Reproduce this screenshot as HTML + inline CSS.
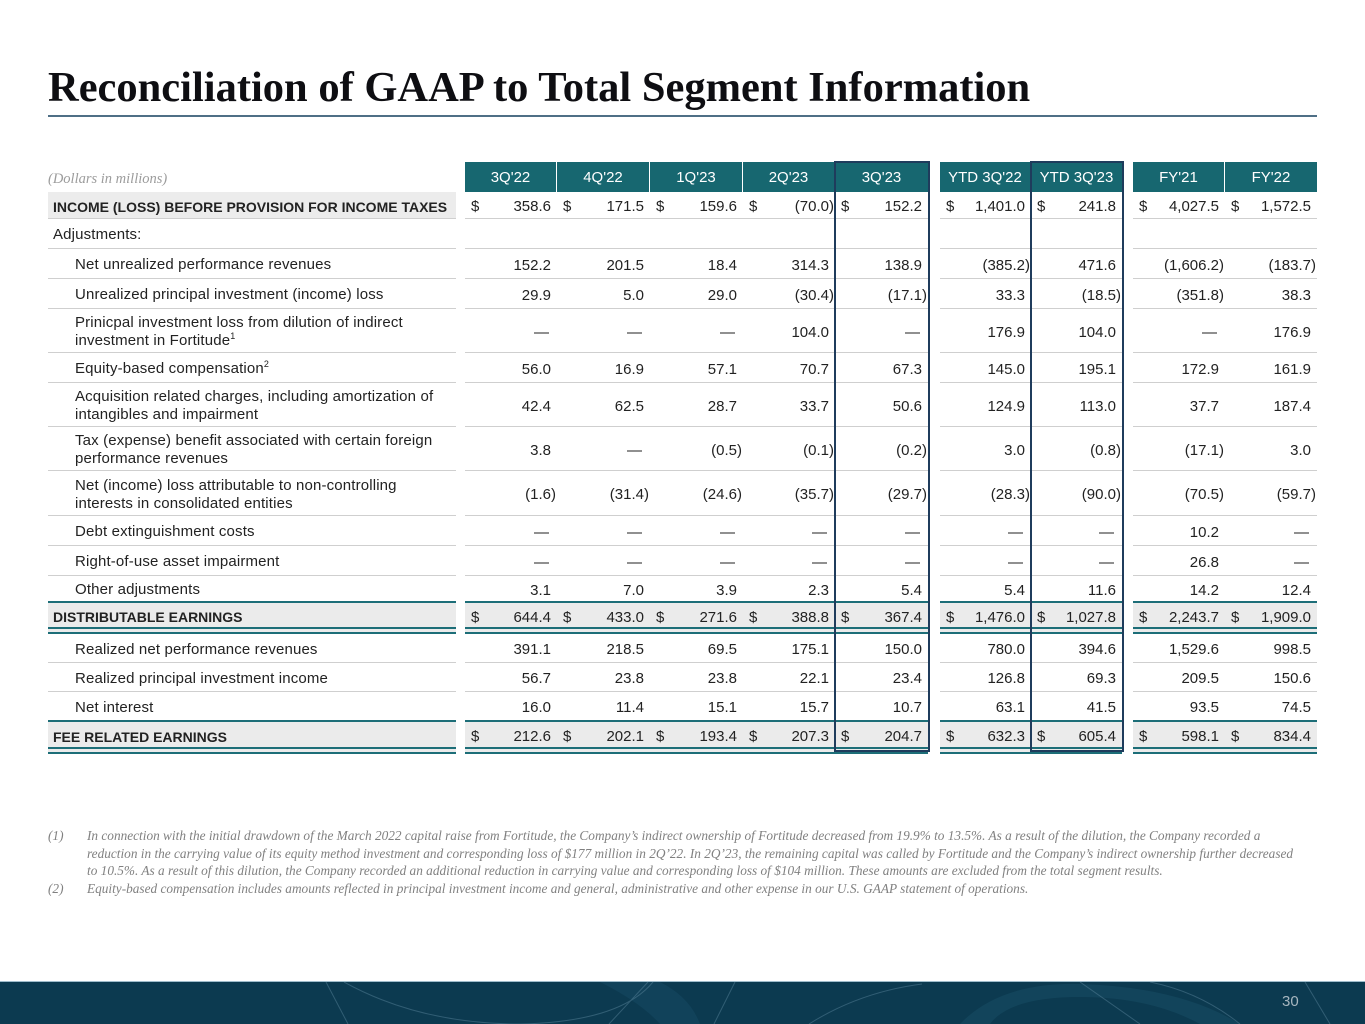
<!DOCTYPE html>
<html><head><meta charset="utf-8">
<style>
html,body{margin:0;padding:0;}
body{width:1365px;height:1024px;position:relative;overflow:hidden;background:#fff;font-family:"Liberation Sans",Arial,sans-serif;color:#222;}
.title{position:absolute;left:48px;top:67px;font-family:"Liberation Serif",serif;font-weight:bold;font-size:42.5px;line-height:42px;color:#0e0e12;white-space:nowrap;}
.rule{position:absolute;left:48px;top:115px;width:1269px;height:2px;background:#4f6f86;}
.dim{position:absolute;left:48px;top:170px;font-family:"Liberation Serif",serif;font-style:italic;font-size:14.5px;line-height:18px;color:#9c9c9c;}
.r{position:absolute;left:0;width:1365px;}
.c{position:absolute;top:0;bottom:0;box-sizing:border-box;border-bottom:1px solid #cfcfcf;display:flex;align-items:center;justify-content:flex-end;padding-right:6px;padding-top:3px;font-size:15px;color:#222;white-space:nowrap;}
.c i{font-style:normal;margin-right:-5px;}
.c .s{position:absolute;left:6px;font-weight:normal;}
.L{left:48px;width:408px;justify-content:flex-start;padding-left:27px;line-height:18px;white-space:normal;letter-spacing:0.15px;}
.L.b{padding-left:5px;font-weight:bold;font-size:14px;letter-spacing:0;}
.L sup{font-size:9px;line-height:0;vertical-align:6px;}
.k1{left:465px;width:92px}.k2{left:557px;width:93px}.k3{left:650px;width:93px}.k4{left:743px;width:92px}.k5{left:835px;width:93px}
.k6{left:940px;width:91px}.k7{left:1031px;width:91px}.k8{left:1133px;width:92px}.k9{left:1225px;width:92px}
.hd .c{background:#176770;color:#fff;justify-content:center;padding:0;border-bottom:none;border-right:1px solid #fff;font-size:15px;}
.hd .k5,.hd .k7,.hd .k9{border-right:none;}
.inc .L{background:#ececec;}
.nb .c{border-bottom:none;}
.tot .c{background:#ebebeb;border-top:2px solid #1d6e78;border-bottom:7px double #1d6e78;padding-top:4px;}
.box{position:absolute;border:2px solid #1f3c5c;box-sizing:border-box;top:161px;height:591px;}
.dash{padding-right:8px;}
.fn{position:absolute;left:48px;top:827px;font-family:"Liberation Serif",serif;font-style:italic;font-size:13.3px;line-height:17.6px;color:#808080;white-space:nowrap;}
.fn div{position:relative;padding-left:39px;}
.fn span{position:absolute;left:0;top:0;}
.foot{position:absolute;left:0;top:981px;width:1365px;height:43px;background:#0c3a50;border-top:1px solid #9fbccb;box-sizing:border-box;}
.pg{position:absolute;left:1282px;top:993px;font-size:15px;color:#a7b6bf;}
</style></head><body>

<div class="title">Reconciliation of GAAP to Total Segment Information</div>
<div class="rule"></div>
<div class="dim">(Dollars in millions)</div>

<!-- header -->
<div class="r hd" style="top:162px;height:30px">
<div class="c k1">3Q'22</div><div class="c k2">4Q'22</div><div class="c k3">1Q'23</div><div class="c k4">2Q'23</div><div class="c k5">3Q'23</div>
<div class="c k6">YTD 3Q'22</div><div class="c k7">YTD 3Q'23</div>
<div class="c k8">FY'21</div><div class="c k9">FY'22</div>
</div>

<div class="r inc" style="top:192px;height:27px">
<div class="c L b"><span>INCOME (LOSS) BEFORE PROVISION FOR INCOME TAXES</span></div>
<div class="c k1"><b class="s">$</b>358.6</div><div class="c k2"><b class="s">$</b>171.5</div><div class="c k3"><b class="s">$</b>159.6</div><div class="c k4"><b class="s">$</b>(70.0<i>)</i></div><div class="c k5"><b class="s">$</b>152.2</div>
<div class="c k6"><b class="s">$</b>1,401.0</div><div class="c k7"><b class="s">$</b>241.8</div>
<div class="c k8"><b class="s">$</b>4,027.5</div><div class="c k9"><b class="s">$</b>1,572.5</div>
</div>

<div class="r" style="top:219px;height:30px">
<div class="c L" style="padding-left:5px"><span>Adjustments:</span></div>
<div class="c k1"></div><div class="c k2"></div><div class="c k3"></div><div class="c k4"></div><div class="c k5"></div>
<div class="c k6"></div><div class="c k7"></div><div class="c k8"></div><div class="c k9"></div>
</div>

<div class="r" style="top:249px;height:30px">
<div class="c L"><span>Net unrealized performance revenues</span></div>
<div class="c k1">152.2</div><div class="c k2">201.5</div><div class="c k3">18.4</div><div class="c k4">314.3</div><div class="c k5">138.9</div>
<div class="c k6">(385.2<i>)</i></div><div class="c k7">471.6</div><div class="c k8">(1,606.2<i>)</i></div><div class="c k9">(183.7<i>)</i></div>
</div>

<div class="r" style="top:279px;height:30px">
<div class="c L"><span>Unrealized principal investment (income) loss</span></div>
<div class="c k1">29.9</div><div class="c k2">5.0</div><div class="c k3">29.0</div><div class="c k4">(30.4<i>)</i></div><div class="c k5">(17.1<i>)</i></div>
<div class="c k6">33.3</div><div class="c k7">(18.5<i>)</i></div><div class="c k8">(351.8<i>)</i></div><div class="c k9">38.3</div>
</div>

<div class="r" style="top:309px;height:44px">
<div class="c L"><span>Prinicpal investment loss from dilution of indirect<br>investment in Fortitude<sup>1</sup></span></div>
<div class="c k1 dash">—</div><div class="c k2 dash">—</div><div class="c k3 dash">—</div><div class="c k4">104.0</div><div class="c k5 dash">—</div>
<div class="c k6">176.9</div><div class="c k7">104.0</div><div class="c k8 dash">—</div><div class="c k9">176.9</div>
</div>

<div class="r" style="top:353px;height:30px">
<div class="c L"><span>Equity-based compensation<sup>2</sup></span></div>
<div class="c k1">56.0</div><div class="c k2">16.9</div><div class="c k3">57.1</div><div class="c k4">70.7</div><div class="c k5">67.3</div>
<div class="c k6">145.0</div><div class="c k7">195.1</div><div class="c k8">172.9</div><div class="c k9">161.9</div>
</div>

<div class="r" style="top:383px;height:44px">
<div class="c L"><span>Acquisition related charges, including amortization of<br>intangibles and impairment</span></div>
<div class="c k1">42.4</div><div class="c k2">62.5</div><div class="c k3">28.7</div><div class="c k4">33.7</div><div class="c k5">50.6</div>
<div class="c k6">124.9</div><div class="c k7">113.0</div><div class="c k8">37.7</div><div class="c k9">187.4</div>
</div>

<div class="r" style="top:427px;height:44px">
<div class="c L"><span>Tax (expense) benefit associated with certain foreign<br>performance revenues</span></div>
<div class="c k1">3.8</div><div class="c k2 dash">—</div><div class="c k3">(0.5<i>)</i></div><div class="c k4">(0.1<i>)</i></div><div class="c k5">(0.2<i>)</i></div>
<div class="c k6">3.0</div><div class="c k7">(0.8<i>)</i></div><div class="c k8">(17.1<i>)</i></div><div class="c k9">3.0</div>
</div>

<div class="r" style="top:471px;height:45px">
<div class="c L"><span>Net (income) loss attributable to non-controlling<br>interests in consolidated entities</span></div>
<div class="c k1">(1.6<i>)</i></div><div class="c k2">(31.4<i>)</i></div><div class="c k3">(24.6<i>)</i></div><div class="c k4">(35.7<i>)</i></div><div class="c k5">(29.7<i>)</i></div>
<div class="c k6">(28.3<i>)</i></div><div class="c k7">(90.0<i>)</i></div><div class="c k8">(70.5<i>)</i></div><div class="c k9">(59.7<i>)</i></div>
</div>

<div class="r" style="top:516px;height:30px">
<div class="c L"><span>Debt extinguishment costs</span></div>
<div class="c k1 dash">—</div><div class="c k2 dash">—</div><div class="c k3 dash">—</div><div class="c k4 dash">—</div><div class="c k5 dash">—</div>
<div class="c k6 dash">—</div><div class="c k7 dash">—</div><div class="c k8">10.2</div><div class="c k9 dash">—</div>
</div>

<div class="r" style="top:546px;height:30px">
<div class="c L"><span>Right-of-use asset impairment</span></div>
<div class="c k1 dash">—</div><div class="c k2 dash">—</div><div class="c k3 dash">—</div><div class="c k4 dash">—</div><div class="c k5 dash">—</div>
<div class="c k6 dash">—</div><div class="c k7 dash">—</div><div class="c k8">26.8</div><div class="c k9 dash">—</div>
</div>

<div class="r nb" style="top:576px;height:25px">
<div class="c L"><span>Other adjustments</span></div>
<div class="c k1">3.1</div><div class="c k2">7.0</div><div class="c k3">3.9</div><div class="c k4">2.3</div><div class="c k5">5.4</div>
<div class="c k6">5.4</div><div class="c k7">11.6</div><div class="c k8">14.2</div><div class="c k9">12.4</div>
</div>

<div class="r tot" style="top:601px;height:33px">
<div class="c L b"><span>DISTRIBUTABLE EARNINGS</span></div>
<div class="c k1"><b class="s">$</b>644.4</div><div class="c k2"><b class="s">$</b>433.0</div><div class="c k3"><b class="s">$</b>271.6</div><div class="c k4"><b class="s">$</b>388.8</div><div class="c k5"><b class="s">$</b>367.4</div>
<div class="c k6"><b class="s">$</b>1,476.0</div><div class="c k7"><b class="s">$</b>1,027.8</div>
<div class="c k8"><b class="s">$</b>2,243.7</div><div class="c k9"><b class="s">$</b>1,909.0</div>
</div>

<div class="r" style="top:634px;height:29px">
<div class="c L"><span>Realized net performance revenues</span></div>
<div class="c k1">391.1</div><div class="c k2">218.5</div><div class="c k3">69.5</div><div class="c k4">175.1</div><div class="c k5">150.0</div>
<div class="c k6">780.0</div><div class="c k7">394.6</div><div class="c k8">1,529.6</div><div class="c k9">998.5</div>
</div>

<div class="r" style="top:663px;height:29px">
<div class="c L"><span>Realized principal investment income</span></div>
<div class="c k1">56.7</div><div class="c k2">23.8</div><div class="c k3">23.8</div><div class="c k4">22.1</div><div class="c k5">23.4</div>
<div class="c k6">126.8</div><div class="c k7">69.3</div><div class="c k8">209.5</div><div class="c k9">150.6</div>
</div>

<div class="r nb" style="top:692px;height:28px">
<div class="c L"><span>Net interest</span></div>
<div class="c k1">16.0</div><div class="c k2">11.4</div><div class="c k3">15.1</div><div class="c k4">15.7</div><div class="c k5">10.7</div>
<div class="c k6">63.1</div><div class="c k7">41.5</div><div class="c k8">93.5</div><div class="c k9">74.5</div>
</div>

<div class="r tot" style="top:720px;height:34px">
<div class="c L b"><span>FEE RELATED EARNINGS</span></div>
<div class="c k1"><b class="s">$</b>212.6</div><div class="c k2"><b class="s">$</b>202.1</div><div class="c k3"><b class="s">$</b>193.4</div><div class="c k4"><b class="s">$</b>207.3</div><div class="c k5"><b class="s">$</b>204.7</div>
<div class="c k6"><b class="s">$</b>632.3</div><div class="c k7"><b class="s">$</b>605.4</div>
<div class="c k8"><b class="s">$</b>598.1</div><div class="c k9"><b class="s">$</b>834.4</div>
</div>

<div class="box" style="left:834px;width:96px"></div>
<div class="box" style="left:1030px;width:94px"></div>

<div class="fn">
<div><span>(1)</span>In connection with the initial drawdown of the March 2022 capital raise from Fortitude, the Company’s indirect ownership of Fortitude decreased from 19.9% to 13.5%. As a result of the dilution, the Company recorded a<br>reduction in the carrying value of its equity method investment and corresponding loss of $177 million in 2Q’22. In 2Q’23, the remaining capital was called by Fortitude and the Company’s indirect ownership further decreased<br>to 10.5%. As a result of this dilution, the Company recorded an additional reduction in carrying value and corresponding loss of $104 million. These amounts are excluded from the total segment results.</div>
<div><span>(2)</span>Equity-based compensation includes amounts reflected in principal investment income and general, administrative and other expense in our U.S. GAAP statement of operations.</div>
</div>

<div class="foot">
<svg width="1365" height="42" viewBox="0 0 1365 42" style="position:absolute;left:0;top:0">
<path d="M600 0 Q640 20 660 42 L700 42 Q690 15 660 0 Z" fill="#164860" opacity="0.6"/>
<path d="M960 42 Q1000 0 1080 2 Q1180 5 1240 42 L1200 42 Q1150 15 1080 15 Q1010 15 990 42 Z" fill="#164860" opacity="0.7"/>
<g fill="none" stroke="#5f8aa0" stroke-width="1" opacity="0.45">
<path d="M326 0 L348 42"/>
<path d="M344 0 Q420 42 520 42 Q620 40 653 0"/>
<path d="M648 0 L609 42"/>
<path d="M735 0 L714 42"/>
<path d="M922 2 Q860 10 809 42"/>
<path d="M1080 0 L1140 42"/>
<path d="M1150 0 Q1200 10 1240 42"/>
<path d="M1305 0 L1330 42"/>
</g>
</svg>
</div>
<div class="pg">30</div>

</body></html>
